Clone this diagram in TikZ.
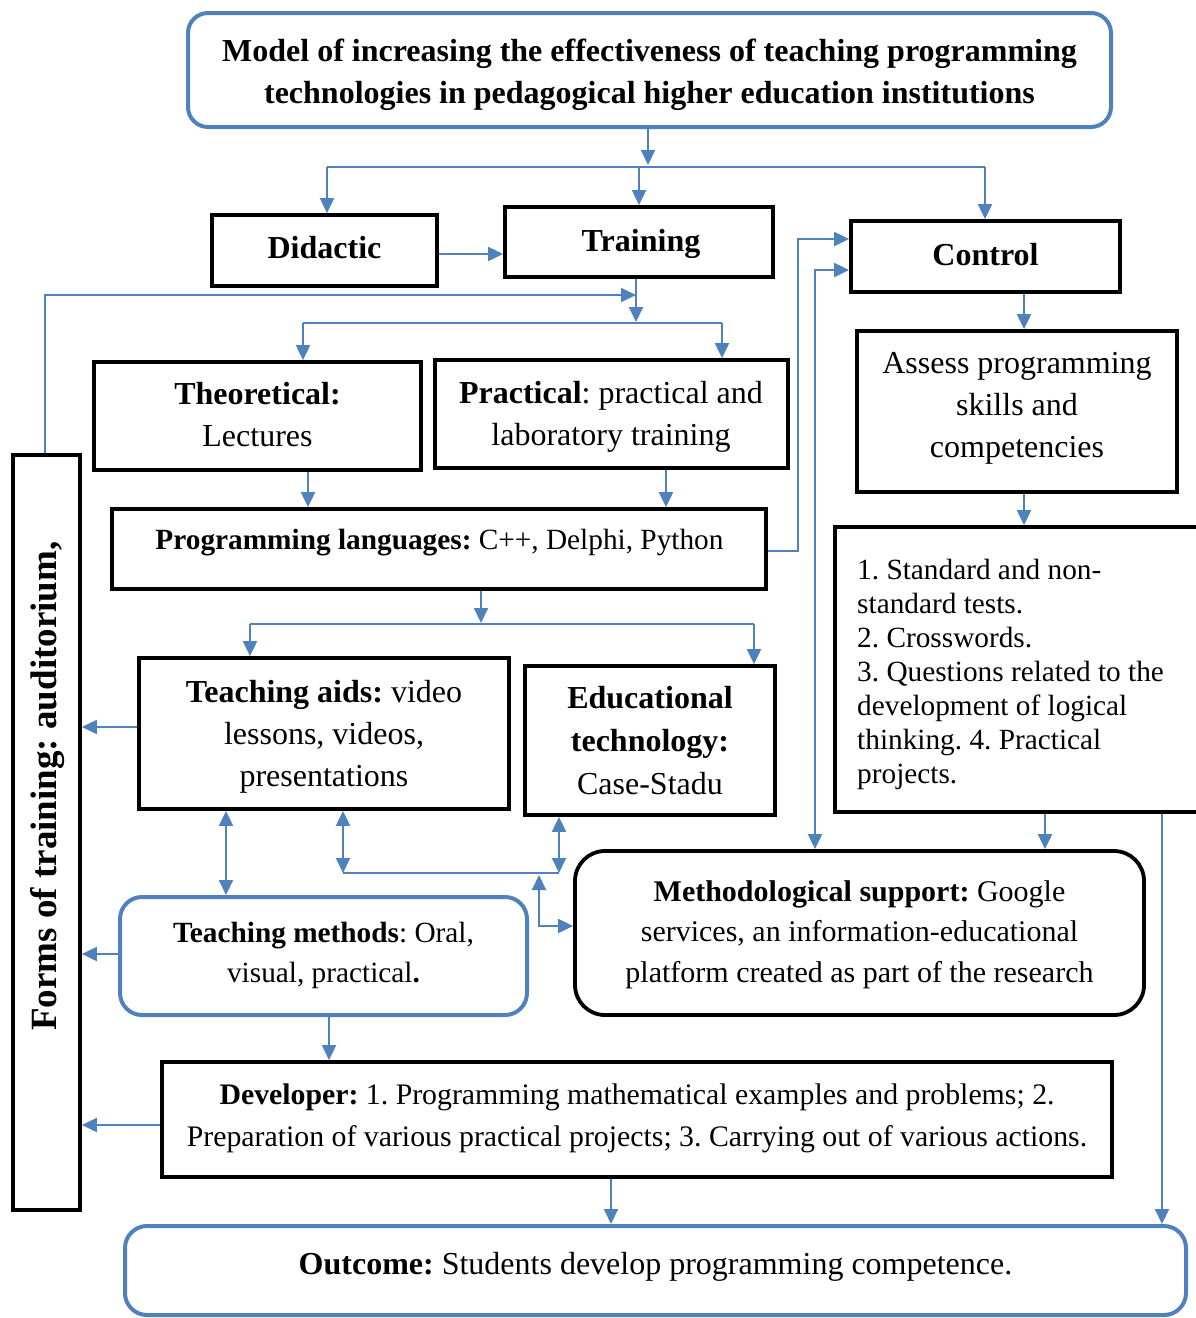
\documentclass[tikz,border=0pt]{standalone}
\usepackage{fontspec}
\setmainfont{Liberation Serif}
\usetikzlibrary{arrows.meta}
\definecolor{bl}{HTML}{4F81BD}
\frenchspacing
\begin{document}
\begin{tikzpicture}[x=1pt,y=-1pt,
  bbox/.style={draw=black,line width=3.8pt,inner sep=0pt},
  blbox/.style={draw=bl,line width=4pt,rounded corners=20pt,inner sep=0pt},
  txt/.style={inner sep=0pt,align=center,font=\fontsize{32}{42}\selectfont},
  btxt/.style={txt,font=\bfseries\fontsize{32}{42}\selectfont},
  ln/.style={draw=bl,line width=2pt},
  conn/.style={ln,-{Triangle[length=15pt,width=14pt]}},
  conn2/.style={ln,{Triangle[length=15pt,width=14pt]}-{Triangle[length=15pt,width=14pt]}},
]
\useasboundingbox (0,0) rectangle (1195,1318);
% boxes
\node[blbox,minimum width=923pt,minimum height=114pt] (title) at (649.5,70) {};
\node[btxt] (titletext) at (649.5,74.5)
  {Model of increasing the effectiveness of teaching programming\\technologies in pedagogical higher education institutions};
\node[bbox,minimum width=225pt,minimum height=71pt] (didactic) at (324.5,250.5) {};
\node[btxt] (didactictext) at (324.5,247.5) {Didactic};
\node[bbox,minimum width=268pt,minimum height=70pt] (training) at (639,242) {};
\node[btxt] (trainingtext) at (641,244) {Training};
\node[bbox,minimum width=269pt,minimum height=71pt] (control) at (985.5,256.5) {};
\node[btxt] (controltext) at (985.5,254.5) {Control};
\node[bbox,minimum width=327pt,minimum height=108pt] (theo) at (257.5,416) {};
\node[txt] (theotext) at (257.5,415) {\textbf{Theoretical:}\\Lectures};
\node[bbox,minimum width=353pt,minimum height=108pt] (prac) at (611.5,414) {};
\node[txt] (practext) at (611,416.5) {\textbf{Practical}: practical and\\laboratory training};
\node[bbox,minimum width=654pt,minimum height=80pt] (prog) at (439,549) {};
\node[txt,font=\fontsize{29.3}{36}\selectfont] (progtext) at (439.5,543) {\textbf{Programming languages:} C++, Delphi, Python};
\node[bbox,minimum width=320pt,minimum height=161pt] (assess) at (1017,411.5) {};
\node[txt] (assesstext) at (1017,408.5) {Assess programming\\skills and\\competencies};
\node[bbox,minimum width=365pt,minimum height=285pt] (list) at (1017.5,669.5) {};
\node[txt,anchor=west,align=left,font=\fontsize{29.3}{34}\selectfont] (listtext) at (857,674.5)
  {1. Standard and non-\\standard tests.\\2. Crosswords.\\3. Questions related to the\\development of logical\\thinking. 4. Practical\\projects.};
\node[bbox,minimum width=370pt,minimum height=151pt] (aids) at (324,733.5) {};
\node[txt] (aidstext) at (324,736.5) {\textbf{Teaching aids:} video\\lessons, videos,\\presentations};
\node[bbox,minimum width=250pt,minimum height=149pt] (edu) at (650,740.5) {};
\node[txt,font=\fontsize{32}{43}\selectfont] (edutext) at (650,741) {\textbf{Educational}\\\textbf{technology:}\\Case-Stadu};
\node[bbox,minimum width=67pt,minimum height=755pt] (forms) at (46.5,832.5) {};
\node[txt,rotate=90,font=\bfseries\fontsize{37}{42}\selectfont] (formstext) at (48,786) {Forms of training: auditorium,};
\node[blbox,rounded corners=22pt,minimum width=407pt,minimum height=118pt] (methods) at (323.5,956) {};
\node[txt,font=\fontsize{29.3}{40}\selectfont] (methodstext) at (323.5,955) {\textbf{Teaching methods}: Oral,\\visual, practical\textbf{.}};
\node[bbox,rounded corners=30pt,minimum width=569pt,minimum height=164pt] (meth) at (859.5,933) {};
\node[txt,font=\fontsize{30}{40.5}\selectfont] (methtext) at (859.5,934.5)
  {\textbf{Methodological support:} Google\\services, an information-educational\\platform created as part of the research};
\node[bbox,minimum width=950pt,minimum height=115pt] (dev) at (637,1119.5) {};
\node[txt,font=\fontsize{29.8}{42}\selectfont] (devtext) at (637,1118.5)
  {\textbf{Developer:} 1. Programming mathematical examples and problems; 2.\\Preparation of various practical projects; 3. Carrying out of various actions.};
\node[blbox,rounded corners=22pt,minimum width=1061pt,minimum height=89pt] (outcome) at (655.5,1270.5) {};
\node[txt] (outtext) at (655.5,1267) {\textbf{Outcome:} Students develop programming competence.};
% top connectors
\coordinate (hl) at (327,167);
\coordinate (hr) at (985,167);
\draw[conn] (title.south -| 648,0) -- (648,165);
\draw[ln] (hl) -- (hr);
\draw[conn] (hl) -- (hl |- didactic.north);
\draw[conn] (hr) -- (hr |- control.north);
\draw[conn] (training.north |- hl) -- (training.north);
\draw[conn] (didactic.east |- 0,254) -- (training.west |- 0,254);
% training down
\coordinate (t1) at (303,323);
\coordinate (t2) at (722,323);
\draw[conn] (training.south -| 636,0) -- (636,322);
\draw[ln] (t1) -- (t2);
\draw[conn] (t1) -- (t1 |- theo.north);
\draw[conn] (t2) -- (t2 |- prac.north);
\draw[conn] (forms.north -| 45,0) -- (45,295) -- (636,295);
% to programming languages
\draw[conn] (theo.south -| 308,0) -- (prog.north -| 308,0);
\draw[conn] (prac.south -| 666,0) -- (prog.north -| 666,0);
% programming -> control
\draw[conn] (prog.east |- 0,551) -- (798,551) -- (798,239) -- (control.west |- 0,239);
\draw[conn2] (meth.north -| 815,0) -- (815,270) -- (control.west |- 0,270);
% programming down
\coordinate (p1) at (250,624);
\coordinate (p2) at (754,624);
\draw[conn] (prog.south -| 481,0) -- (481,623);
\draw[ln] (p1) -- (p2);
\draw[conn] (p1) -- (p1 |- aids.north);
\draw[conn] (p2) -- (p2 |- edu.north);
% control column
\draw[conn] (control.south -| 1024,0) -- (assess.north -| 1024,0);
\draw[conn] (assess.south -| 1024,0) -- (list.north -| 1024,0);
\draw[conn] (list.south -| 1045,0) -- (meth.north -| 1045,0);
\draw[conn] (list.south -| 1162,0) -- (outcome.north -| 1162,0);
% to forms
\draw[conn] (aids.west |- 0,727) -- (forms.east |- 0,727);
\draw[conn] (methods.west |- 0,954) -- (forms.east |- 0,954);
\draw[conn] (dev.west |- 0,1125) -- (forms.east |- 0,1125);
% middle links
\coordinate (m1) at (343,873);
\coordinate (m2) at (559,873);
\draw[conn2] (aids.south -| 226,0) -- (methods.north -| 226,0);
\draw[conn2] (m1) -- (m1 |- aids.south);
\draw[conn2] (m2) -- (m2 |- edu.south);
\draw[ln] (m1) -- (m2);
\draw[conn2] (539,875) -- (539,926) -- (meth.west |- 0,926);
% bottom
\draw[conn] (methods.south -| 329,0) -- (dev.north -| 329,0);
\draw[conn] (dev.south -| 611,0) -- (outcome.north -| 611,0);
\end{tikzpicture}
\end{document}
